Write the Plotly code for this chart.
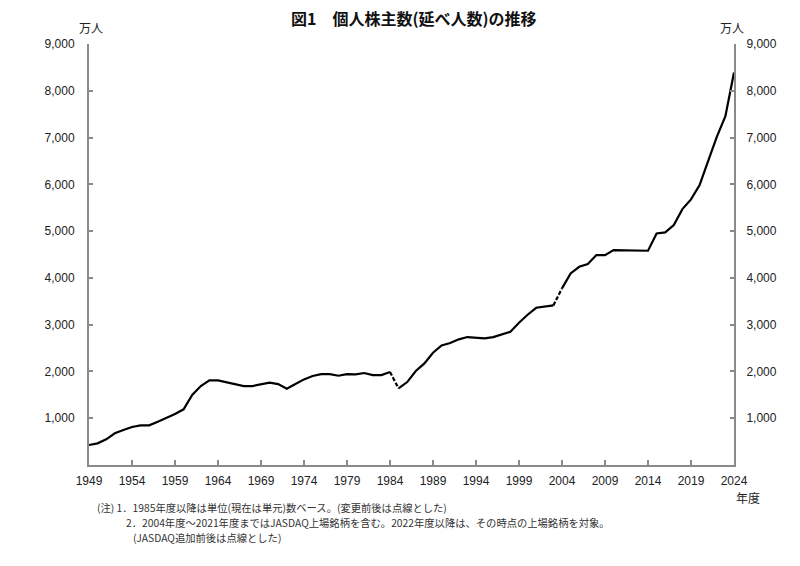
import plotly.graph_objects as go

years = list(range(1949, 2025))
values = [
    427, 463, 549, 677, 748, 812, 848, 848, 926, 1004,   # 1949-1958
    1090, 1190, 1496, 1688, 1809, 1809, 1773, 1738, 1688, 1688,  # 1959-1968
    1716, 1759, 1730, 1631, 1730, 1830, 1902, 1944, 1944, 1908,  # 1969-1978
    1944, 1937, 1966, 1923, 1923, 1987, 1638, 1773, 2009, 2172,  # 1979-1988
    2400, 2557, 2607, 2686, 2735, 2728, 2707, 2735, 2792, 2849,  # 1989-1998
    3041, 3212, 3361, 3383, 3412, 3775, 4096, 4237, 4295, 4487,  # 1999-2008
    4487, 4594, 4594, 4594, 4580, 4580, 4950, 4972, 5128, 5470,  # 2009-2018
    5677, 5983, 6503, 7016, 7457, 8391,                          # 2019-2024
]
break_years = [1984, 2003]  # dotted segment from these years to the next

tick_years = list(range(1949, 2025, 5))
y_ticks = list(range(1000, 9001, 1000))
y_ticktext = [f"{v:,}" for v in y_ticks]

title_text = "<b>図1　個人株主数(延べ人数)の推移</b>"
unit_text = "万人"
xunit_text = "年度"
notes = [
    "(注) 1．1985年度以降は単位(現在は単元)数ベース。(変更前後は点線とした)",
    "2．2004年度～2021年度まではJASDAQ上場銘柄を含む。2022年度以降は、その時点の上場銘柄を対象。",
    "(JASDAQ追加前後は点線とした)",
]

fig = go.Figure()

# build solid and dotted segments
idx = [years.index(b) for b in break_years]
starts = [0] + [i + 1 for i in idx]
ends = idx + [len(years) - 1]
for s, e in zip(starts, ends):
    fig.add_trace(go.Scatter(x=years[s:e + 1], y=values[s:e + 1], mode="lines",
                             line=dict(color="black", width=2.2), showlegend=False,
                             hoverinfo="skip"))
for i in idx:
    fig.add_trace(go.Scatter(x=years[i:i + 2], y=values[i:i + 2], mode="lines",
                             line=dict(color="black", width=2.2, dash="4px,2px"),
                             showlegend=False, hoverinfo="skip"))
# invisible trace to activate right axis
fig.add_trace(go.Scatter(x=years, y=values, yaxis="y2", mode="lines",
                         line=dict(color="rgba(0,0,0,0)", width=0), showlegend=False,
                         hoverinfo="skip"))

tickfont = dict(family="Liberation Sans, Arial, sans-serif", size=12, color="#222")
axis_color = "#8a8a8a"

fig.update_layout(
    width=800, height=566,
    margin=dict(l=89, r=66, t=44, b=101),
    paper_bgcolor="white", plot_bgcolor="white",
    xaxis=dict(range=[1949, 2024], tickmode="array", tickvals=tick_years,
               ticktext=[str(t) for t in tick_years], ticks="inside", ticklen=5,
               tickcolor=axis_color, tickwidth=1.5, showline=True, linecolor=axis_color,
               linewidth=2, showgrid=False, zeroline=False, tickfont=tickfont,
               ticklabelstandoff=4),
    yaxis=dict(range=[0, 9000], tickmode="array", tickvals=y_ticks, ticktext=y_ticktext,
               ticks="inside", ticklen=4, tickcolor=axis_color, tickwidth=1.5,
               showline=True, linecolor=axis_color, linewidth=2, showgrid=False,
               zeroline=False, tickfont=tickfont, ticklabelstandoff=10),
    yaxis2=dict(range=[0, 9000], tickmode="array", tickvals=y_ticks, ticktext=y_ticktext,
                overlaying="y", side="right", ticks="inside", ticklen=4,
                tickcolor=axis_color, tickwidth=1.5, showline=True, linecolor=axis_color,
                linewidth=2, showgrid=False, zeroline=False, tickfont=tickfont,
                ticklabelstandoff=8),
)

cjk = "Noto Sans CJK JP, sans-serif"
fig.add_annotation(text=title_text, xref="paper", yref="paper", x=(414 - 89) / 645,
                   y=(465 - 18) / 421, showarrow=False,
                   font=dict(family=cjk, size=16, color="#111"),
                   xanchor="center", yanchor="middle")
fig.add_annotation(text=unit_text, xref="paper", yref="paper", x=(91 - 89) / 645,
                   y=(465 - 27) / 421, showarrow=False,
                   font=dict(family=cjk, size=12, color="#222"), xanchor="center", yanchor="middle")
fig.add_annotation(text=unit_text, xref="paper", yref="paper", x=(732 - 89) / 645,
                   y=(465 - 27) / 421, showarrow=False,
                   font=dict(family=cjk, size=12, color="#222"), xanchor="center", yanchor="middle")
fig.add_annotation(text=xunit_text, xref="paper", yref="paper", x=(748 - 89) / 645,
                   y=(465 - 497) / 421, showarrow=False,
                   font=dict(family=cjk, size=12, color="#222"), xanchor="center", yanchor="middle")
note_pos = [(95, 508), (124, 522), (131, 537)]
for t, (px, py) in zip(notes, note_pos):
    fig.add_annotation(text=t, xref="paper", yref="paper", x=(px - 89) / 645,
                       y=(465 - py) / 421, showarrow=False,
                       font=dict(family=cjk, size=10.3, color="#333"), xanchor="left",
                       yanchor="middle")

fig.write_html("out.html")
